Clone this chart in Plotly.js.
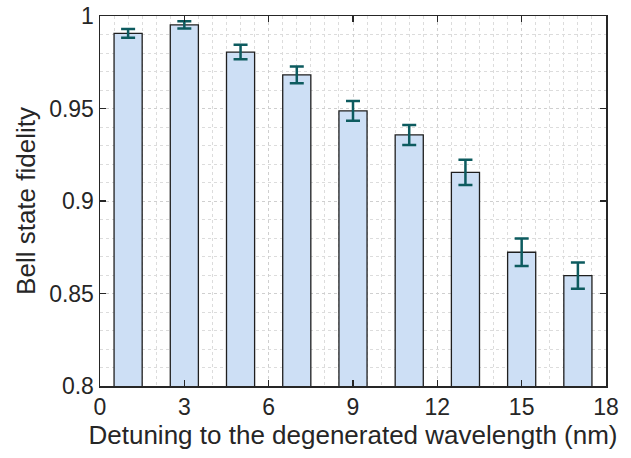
<!DOCTYPE html>
<html>
<head>
<meta charset="utf-8">
<script src="https://cdn.plot.ly/plotly-3.0.1.min.js"></script>
<style>html,body{margin:0;padding:0;background:#fff;}#chart{width:631px;height:458px;}</style>
</head>
<body>
<div id="chart"></div>
<script>
const detuning = [1, 3, 5, 7, 9, 11, 13, 15, 17];
const fidelity = [0.9906, 0.9952, 0.9805, 0.9682, 0.9487, 0.9357, 0.9155, 0.8723, 0.8597];
const fidelityErr = [0.0024, 0.0020, 0.0039, 0.0045, 0.0053, 0.0054, 0.0068, 0.0074, 0.0071];
const xTicks = [0, 3, 6, 9, 12, 15, 18];
const yTicks = [0.8, 0.85, 0.9, 0.95, 1];
const yTickText = ['0.8', '0.85', '0.9', '0.95', '1'];

const trace = {
  type: 'bar',
  x: detuning,
  y: fidelity,
  width: 1,
  marker: {color: '#cddff5', line: {color: '#1f1f1f', width: 1.3}},
  error_y: {type: 'data', array: fidelityErr, visible: true, color: '#0d5b5f', thickness: 2.5, width: 7},
  hoverinfo: 'skip'
};

const axisCommon = {
  showline: true, linecolor: '#262626', linewidth: 1.5, mirror: 'ticks',
  ticks: 'inside', ticklen: 6, tickwidth: 1.2, tickcolor: '#262626',
  showgrid: true, gridcolor: '#cfcfcf', griddash: 'dot', gridwidth: 1,
  zeroline: false,
  tickfont: {family: 'Liberation Sans, Arial, sans-serif', size: 23, color: '#262626'}
};

const layout = {
  width: 631, height: 458,
  margin: {l: 100, r: 25, t: 16, b: 72},
  paper_bgcolor: '#ffffff', plot_bgcolor: '#ffffff',
  showlegend: false,
  bargap: 0,
  xaxis: Object.assign({}, axisCommon, {
    range: [0, 18], tickvals: xTicks, ticktext: xTicks.map(String),
    minor: {dtick: 0.5, showgrid: true, gridcolor: '#dcdcdc', griddash: 'dot', gridwidth: 1, ticks: ''},
    title: {text: 'Detuning to the degenerated wavelength (nm)', standoff: 5,
      font: {family: 'Liberation Sans, Arial, sans-serif', size: 26, color: '#262626'}}
  }),
  yaxis: Object.assign({}, axisCommon, {
    range: [0.8, 1], tickvals: yTicks, ticktext: yTickText,
    minor: {dtick: 0.01, showgrid: true, gridcolor: '#dcdcdc', griddash: 'dot', gridwidth: 1, ticks: ''},
    title: {text: 'Bell state fidelity', standoff: 6,
      font: {family: 'Liberation Sans, Arial, sans-serif', size: 26, color: '#262626'}}
  })
};

Plotly.newPlot('chart', [trace], layout, {displayModeBar: false, staticPlot: true});
</script>
</body>
</html>
